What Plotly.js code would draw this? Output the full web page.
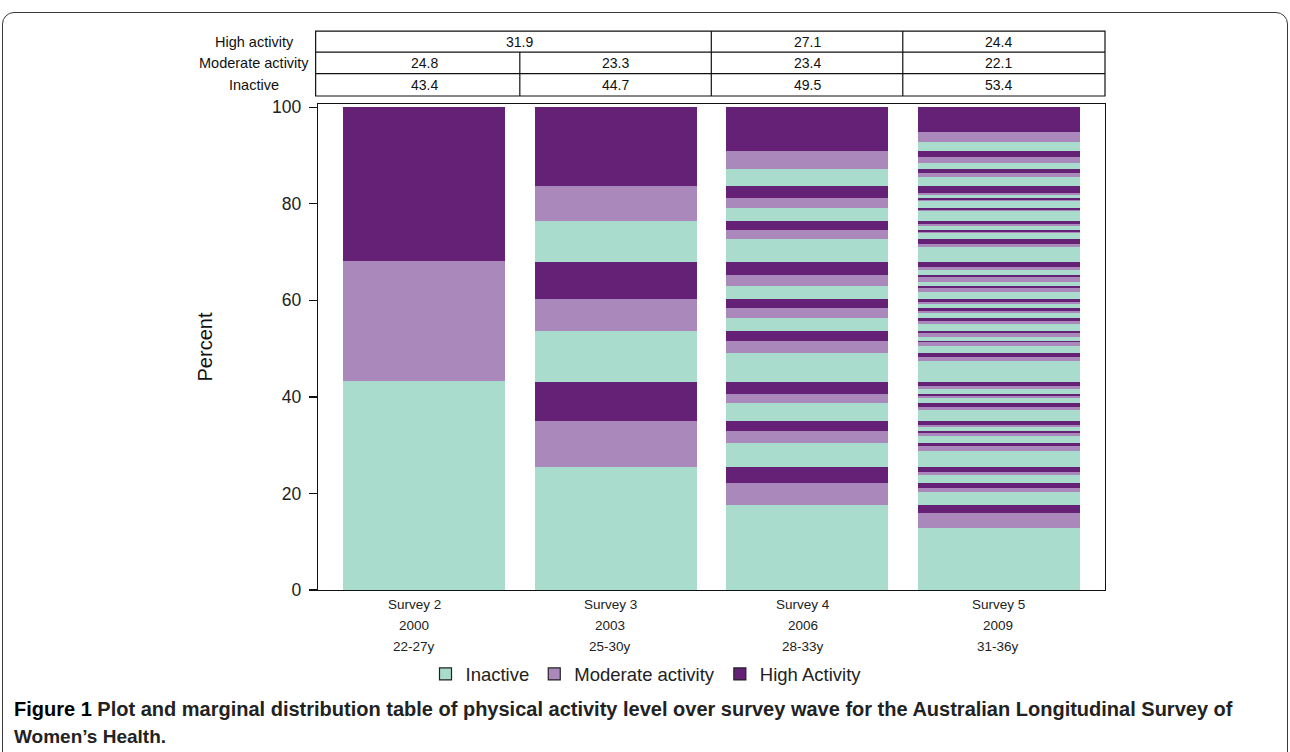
<!DOCTYPE html>
<html>
<head>
<meta charset="utf-8">
<script src="https://cdn.plot.ly/plotly-3.0.1.min.js"></script>
<style>
  html, body { margin: 0; padding: 0; background: #ffffff; overflow: hidden; }
  #frame { position: absolute; left: 2px; top: 12px; width: 1286px; height: 800px;
           border: 1.5px solid #3a3a3a; border-radius: 12px; box-sizing: border-box; }
  #chart { position: absolute; left: 0; top: 0; width: 1290px; height: 752px; }
</style>
</head>
<body>
<div id="frame"></div>
<div id="chart"></div>
<script>
// ---------------- data ----------------
const surveys = ['Survey 2', 'Survey 3', 'Survey 4', 'Survey 5'];
const years = ['2000', '2003', '2006', '2009'];
const ages = ['22-27y', '25-30y', '28-33y', '31-36y'];
const categories = ['Inactive', 'Moderate activity', 'High Activity'];

// segment heights (percent), from bottom to top, cycling Inactive, Moderate, High
const survey2Seg = [43.4, 24.8, 31.8];
const survey3Seg = [25.4, 9.6, 8.1, 10.6, 6.5, 7.7, 8.5, 7.2, 16.4];
const survey4Seg = [17.7, 4.5, 3.2, 5.1, 2.5, 2.0, 3.7, 1.9, 2.5,
                    6.1, 2.4, 2.1, 2.7, 2.1, 1.7, 2.8, 2.3, 2.6,
                    4.8, 1.9, 1.8, 2.8, 2.1, 2.3, 3.7, 3.6, 9.1];
const survey5Seg = [12.8, 3.1, 1.8, 2.5, 1.0, 1.0, 1.6, 0.7, 0.9,
                    3.4, 1.1, 0.6, 1.5, 0.6, 0.4, 0.7, 0.4, 0.9,
                    2.3, 0.7, 0.7, 1.0, 0.4, 0.5, 1.1, 0.5, 0.9,
                    4.4, 0.8, 0.9, 1.4, 0.7, 0.3, 0.9, 0.8, 0.4,
                    1.5, 0.6, 0.6, 1.0, 0.4, 0.7, 0.7, 0.4, 0.6,
                    1.5, 0.9, 0.4, 0.9, 0.9, 0.5, 0.9, 0.7, 1.0,
                    3.2, 0.6, 1.0, 1.2, 0.3, 0.4, 0.8, 0.4, 0.6,
                    2.1, 0.3, 0.4, 1.3, 0.3, 0.5, 0.5, 0.5, 1.3,
                    2.0, 0.8, 0.9, 1.2, 1.1, 1.3, 2.0, 1.9, 5.2];

// marginal distribution table
const tableRowLabels = ['High activity', 'Moderate activity', 'Inactive'];
const tableHigh = ['31.9', '27.1', '24.4'];
const tableHighSpans = [[0, 1], [2, 2], [3, 3]];
const tableModerate = ['24.8', '23.3', '23.4', '22.1'];
const tableInactive = ['43.4', '44.7', '49.5', '53.4'];

// ---------------- styles ----------------
const colors = ['#a9dccc', '#aa88bb', '#652176'];
const barWidth = 0.846;
const font = 'Arial, "Liberation Sans", sans-serif';

const allSeg = [survey2Seg, survey3Seg, survey4Seg, survey5Seg];
const traces = [];
for (let c = 0; c < 3; c++) {
  const xs = [], ys = [], bases = [];
  allSeg.forEach((segs, si) => {
    let cum = 0;
    segs.forEach((h, k) => {
      if (k % 3 === c) { xs.push(si); ys.push(h); bases.push(cum); }
      cum += h;
    });
  });
  traces.push({
    type: 'bar', x: xs, y: ys, base: bases, width: barWidth,
    marker: { color: colors[c], line: { width: 0 } },
    name: categories[c], showlegend: false, hoverinfo: 'skip'
  });
}
for (let c = 0; c < 3; c++) {
  traces.push({
    type: 'bar', x: [null], y: [null], name: categories[c], showlegend: true,
    marker: { color: colors[c], line: { color: '#222', width: 1.2 } }
  });
}

// geometry helpers (paper coords)
const plotLeft = 318, plotW = 787;
const plotTop = 104, plotBot = 590.5, plotH = plotBot - plotTop;
const py = px => (plotBot - px) / plotH;
const pxX = px => (px - plotLeft) / plotW;

const rowEdges = [31, 52, 73.5, 96];
const shapes = [];
const lineStyle = { color: '#111', width: 1.2 };
shapes.push({ type: 'rect', xref: 'paper', yref: 'paper', x0: -0.003, x1: 1, y0: py(rowEdges[3]), y1: py(rowEdges[0]), line: lineStyle });
[1, 2].forEach(i => shapes.push({ type: 'line', xref: 'paper', yref: 'paper', x0: -0.003, x1: 1, y0: py(rowEdges[i]), y1: py(rowEdges[i]), line: lineStyle }));
shapes.push({ type: 'line', xref: 'x', yref: 'paper', x0: 0.5, x1: 0.5, y0: py(rowEdges[3]), y1: py(rowEdges[1]), line: lineStyle });
[1.5, 2.5].forEach(v => shapes.push({ type: 'line', xref: 'x', yref: 'paper', x0: v, x1: v, y0: py(rowEdges[3]), y1: py(rowEdges[0]), line: lineStyle }));

const annotations = [];
const rowMid = i => py((rowEdges[i] + rowEdges[i + 1]) / 2);
tableRowLabels.forEach((t, i) => annotations.push({
  text: t, xref: 'paper', yref: 'paper', x: pxX(254), y: rowMid(i),
  xanchor: 'center', yanchor: 'middle', showarrow: false, font: { family: font, size: 14.5, color: '#111' }
}));
const cellFont = { family: font, size: 14, color: '#111' };
tableHigh.forEach((t, j) => annotations.push({
  text: t, xref: 'x', yref: 'paper', x: (tableHighSpans[j][0] + tableHighSpans[j][1]) / 2, y: rowMid(0),
  xanchor: 'center', yanchor: 'middle', showarrow: false, font: cellFont
}));
tableModerate.forEach((t, j) => annotations.push({
  text: t, xref: 'x', yref: 'paper', x: j, y: rowMid(1),
  xanchor: 'center', yanchor: 'middle', showarrow: false, font: cellFont
}));
tableInactive.forEach((t, j) => annotations.push({
  text: t, xref: 'x', yref: 'paper', x: j, y: rowMid(2),
  xanchor: 'center', yanchor: 'middle', showarrow: false, font: cellFont
}));

// x category labels (three lines)
const labelCenters = [414, 610, 803, 998];
[surveys, years, ages].forEach((arr, li) => arr.forEach((t, j) => annotations.push({
  text: t, xref: 'paper', yref: 'paper', x: pxX(labelCenters[j]), y: py(605 + li * 21),
  xanchor: 'center', yanchor: 'middle', showarrow: false, font: { family: font, size: 13.5, color: '#222' }
})));

// caption
annotations.push({
  text: '<b>Figure 1</b><span style="color:#222"> <b>Plot and marginal distribution table of physical activity level over survey wave for the Australian Longitudinal Survey of</b></span>',
  xref: 'paper', yref: 'paper', x: pxX(12), y: py(710), xanchor: 'left', yanchor: 'middle',
  showarrow: false, font: { family: font, size: 20, color: '#000' }
});
annotations.push({
  text: '<b>Women’s Health.</b>',
  xref: 'paper', yref: 'paper', x: pxX(12), y: py(737), xanchor: 'left', yanchor: 'middle',
  showarrow: false, font: { family: font, size: 19, color: '#222' }
});

const layout = {
  width: 1290, height: 752,
  margin: { l: plotLeft, r: 1290 - plotLeft - plotW, t: plotTop, b: 752 - plotBot, pad: 0 },
  paper_bgcolor: 'rgba(0,0,0,0)', plot_bgcolor: 'rgba(0,0,0,0)',
  barmode: 'overlay', bargap: 0,
  font: { family: font, color: '#222' },
  xaxis: {
    range: [-0.554, 3.556], showgrid: false, zeroline: false, showticklabels: false, ticks: '',
    showline: true, linecolor: '#111', linewidth: 1.2, mirror: true, fixedrange: true
  },
  yaxis: {
    range: [0, 100.68], tickvals: [0, 20, 40, 60, 80, 100], ticks: 'outside', ticklen: 8,
    tickcolor: '#111', tickwidth: 1.2, showgrid: false, zeroline: false,
    showline: true, linecolor: '#111', linewidth: 1.2, mirror: true,
    ticklabelstandoff: 4,
    tickfont: { family: font, size: 17.5, color: '#222' },
    title: { text: 'Percent', font: { family: font, size: 20, color: '#111' }, standoff: 54 },
    automargin: false
  },
  legend: {
    orientation: 'h', x: pxX(646), y: py(675), xanchor: 'center', yanchor: 'middle',
    font: { family: font, size: 18.5, color: '#222' }, bgcolor: 'rgba(0,0,0,0)', traceorder: 'normal'
  },
  shapes: shapes,
  annotations: annotations
};

Plotly.newPlot('chart', traces, layout, { displayModeBar: false, staticPlot: true });
</script>
</body>
</html>
